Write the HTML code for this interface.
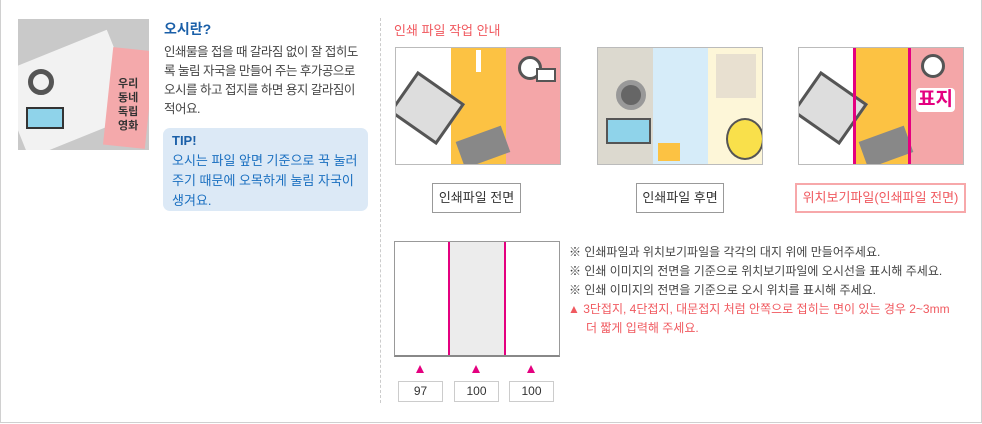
<!DOCTYPE html>
<html><head><meta charset="utf-8"><style>
*{margin:0;padding:0;box-sizing:border-box}
body{width:982px;height:424px;background:#fff;font-family:"Liberation Sans","Noto Sans CJK KR",sans-serif;position:relative;overflow:hidden}
.a{position:absolute}
.frame{left:0;top:0;width:982px;height:423px;border:1px solid #d0d0d0;border-top:none}
.t{white-space:nowrap}
.thumb{border:1px solid #bbb;overflow:hidden;width:166px;height:118px;top:47px}
.p{position:absolute;top:0;height:100%}
.btn{top:183px;height:30px;border:1px solid #999;font-size:13px;color:#333;text-align:center;line-height:28px;background:#fff}
.nb{top:381px;width:45px;height:21px;border:1px solid #ccc;font-size:12px;color:#333;text-align:center;line-height:19px}
.tri{top:365px;width:0;height:0;border-left:4px solid transparent;border-right:4px solid transparent;border-bottom:8px solid #e4007f}
.n{font-size:12px;color:#444;left:569px}
</style></head><body>
<div class="a frame"></div>

<!-- photo -->
<div class="a" style="left:18px;top:19px;width:131px;height:131px;background:#c9c9c9;overflow:hidden">
  <div class="a" style="left:-10px;top:30px;width:120px;height:90px;background:#f2f2f2;transform:rotate(-22deg)"></div>
  <div class="a" style="left:10px;top:50px;width:26px;height:26px;border:5px solid #555;border-radius:50%"></div>
  <div class="a" style="left:8px;top:88px;width:38px;height:22px;background:#8fd3ea;border:2px solid #333"></div>
  <div class="a" style="left:90px;top:30px;width:42px;height:98px;background:#f4a9ab;transform:rotate(6deg)"></div>
  <div class="a t" style="left:100px;top:58px;font-size:11px;font-weight:bold;color:#333;line-height:14px;text-align:center">우리<br>동네<br>독립<br>영화</div>
</div>

<div class="a t" style="left:164px;top:19px;font-size:14px;font-weight:bold;color:#1a5fa8">오시란?</div>
<div class="a t" style="left:164px;top:43px;font-size:12.5px;letter-spacing:-0.5px;line-height:19px;color:#444">인쇄물을 접을 때 갈라짐 없이 잘 접히도<br>록 눌림 자국을 만들어 주는 후가공으로<br>오시를 하고 접지를 하면 용지 갈라짐이<br>적어요.</div>
<div class="a" style="left:163px;top:128px;width:205px;height:83px;background:#dce9f6;border-radius:7px"></div>
<div class="a t" style="left:172px;top:131px;font-size:13px;line-height:20px;color:#1a6fc0"><b style="color:#1a5fa8">TIP!</b><br>오시는 파일 앞면 기준으로 꾹 눌러<br>주기 때문에 오목하게 눌림 자국이<br>생겨요.</div>

<div class="a" style="left:380px;top:18px;height:385px;border-left:1px dashed #ccc"></div>

<div class="a t" style="left:394px;top:20px;font-size:13px;color:#f0595f">인쇄 파일 작업 안내</div>

<!-- thumb1 -->
<div class="a thumb" style="left:395px">
  <div class="p" style="left:0;width:55px;background:#fff"></div>
  <div class="p" style="left:55px;width:55px;background:#fcc243"></div>
  <div class="p" style="left:110px;width:56px;background:#f4a6a8"></div>
  <div class="a" style="left:2px;top:35px;width:58px;height:50px;background:#ddd;border:3px solid #555;transform:rotate(35deg)"></div>
  <div class="a" style="left:63px;top:85px;width:48px;height:28px;background:#888;transform:rotate(-20deg)"></div>
  <div class="a" style="left:122px;top:8px;width:24px;height:24px;border-radius:50%;background:#fff;border:3px solid #555"></div>
  <div class="a" style="left:140px;top:20px;width:20px;height:14px;background:#fff;border:2px solid #555"></div>
  <div class="a" style="left:80px;top:2px;width:5px;height:22px;background:#fff"></div>
</div>
<!-- thumb2 -->
<div class="a thumb" style="left:597px">
  <div class="p" style="left:0;width:55px;background:#dcd9cf"></div>
  <div class="p" style="left:55px;width:55px;background:#d6ecf9"></div>
  <div class="p" style="left:110px;width:56px;background:#fdf6d8"></div>
  <div class="a" style="left:18px;top:32px;width:30px;height:30px;border-radius:50%;background:#666;border:5px solid #999"></div>
  <div class="a" style="left:8px;top:70px;width:45px;height:26px;background:#8fd3ea;border:2px solid #555"></div>
  <div class="a" style="left:118px;top:6px;width:40px;height:44px;background:#e8e0d0"></div>
  <div class="a" style="left:128px;top:70px;width:38px;height:42px;border-radius:50%;background:#f9e04b;border:2px solid #555"></div>
  <div class="a" style="left:60px;top:95px;width:22px;height:18px;background:#fcc243"></div>
</div>
<!-- thumb3 -->
<div class="a thumb" style="left:798px">
  <div class="p" style="left:0;width:55px;background:#fff"></div>
  <div class="p" style="left:55px;width:55px;background:#fcc243"></div>
  <div class="p" style="left:110px;width:56px;background:#f4a6a8"></div>
  <div class="a" style="left:2px;top:35px;width:58px;height:50px;background:#ddd;border:3px solid #555;transform:rotate(35deg)"></div>
  <div class="a" style="left:63px;top:85px;width:48px;height:28px;background:#888;transform:rotate(-20deg)"></div>
  <div class="a" style="left:122px;top:6px;width:24px;height:24px;border-radius:50%;background:#fff;border:3px solid #555"></div>
  <div class="p" style="left:54px;width:3px;background:#e4007f"></div>
  <div class="p" style="left:109px;width:3px;background:#e4007f"></div>
  <div class="a t" style="left:117px;top:40px;font-size:19px;font-weight:bold;color:#e4007f;background:#fff;border-radius:4px;padding:0 2px;line-height:24px">표지</div>
</div>

<div class="a btn" style="left:432px;width:89px">인쇄파일 전면</div>
<div class="a btn" style="left:636px;width:88px">인쇄파일 후면</div>
<div class="a btn" style="left:795px;width:171px;border:2px solid #f7a8aa;color:#f0595f;line-height:26px">위치보기파일(인쇄파일 전면)</div>

<!-- fold diagram -->
<div class="a" style="left:394px;top:241px;width:166px;height:116px;border:1px solid #999;border-bottom:2px solid #888"></div>
<div class="a" style="left:449px;top:242px;width:56px;height:113px;background:#ececec"></div>
<div class="a" style="left:448px;top:242px;width:2px;height:113px;background:#e4007f"></div>
<div class="a" style="left:504px;top:242px;width:2px;height:113px;background:#e4007f"></div>
<div class="a tri" style="left:416px"></div>
<div class="a tri" style="left:472px"></div>
<div class="a tri" style="left:527px"></div>
<div class="a nb" style="left:398px">97</div>
<div class="a nb" style="left:454px">100</div>
<div class="a nb" style="left:509px">100</div>

<div class="a t n" style="top:243px">※ 인쇄파일과 위치보기파일을 각각의 대지 위에 만들어주세요.</div>
<div class="a t n" style="top:262px">※ 인쇄 이미지의 전면을 기준으로 위치보기파일에 오시선을 표시해 주세요.</div>
<div class="a t n" style="top:281px">※ 인쇄 이미지의 전면을 기준으로 오시 위치를 표시해 주세요.</div>
<div class="a t n" style="top:300px;color:#f0595f;left:568px">▲ 3단접지, 4단접지, 대문접지 처럼 안쪽으로 접히는 면이 있는 경우 2~3mm</div>
<div class="a t n" style="top:319px;color:#f0595f;left:586px">더 짧게 입력해 주세요.</div>
</body></html>
